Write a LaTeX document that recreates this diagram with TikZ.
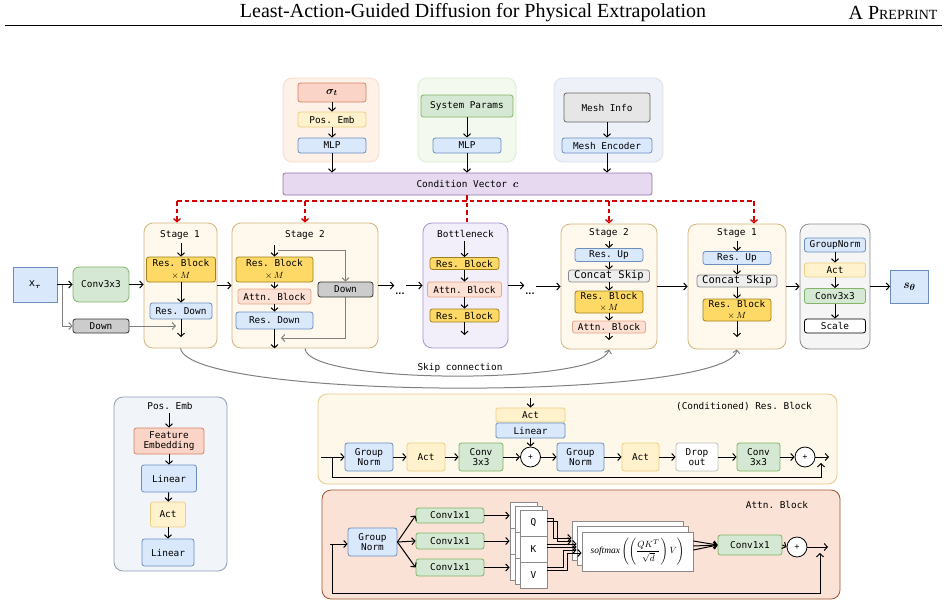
\documentclass[tikz,border=0pt]{standalone}
\usepackage{amsmath}
\usepackage{fontspec}
\setmainfont{Liberation Serif}
\setmonofont{DejaVu Sans Mono}
\newfontfamily\dotsfont{DejaVu Sans}
\usetikzlibrary{arrows.meta}

\definecolor{blueF}{HTML}{DAE8FC}  \definecolor{blueD}{HTML}{6C8EBF}
\definecolor{greenF}{HTML}{D5E8D4} \definecolor{greenD}{HTML}{82B366}
\definecolor{yelF}{HTML}{FFF2CC}   \definecolor{yelD}{HTML}{F0CF80}
\definecolor{resF}{HTML}{FFD966}   \definecolor{resD}{HTML}{A0801E}
\definecolor{attnF}{HTML}{FCE1D4}  \definecolor{attnD}{HTML}{E8A588}
\definecolor{sigF}{HTML}{FAD4C6}   \definecolor{sigD}{HTML}{D98268}
\definecolor{purF}{HTML}{E6D9F0}   \definecolor{purD}{HTML}{9673A6}
\definecolor{downF}{HTML}{CCCCCC}  \definecolor{downD}{HTML}{333333}
\definecolor{meshF}{HTML}{E6E6E6}  \definecolor{meshD}{HTML}{666666}
\definecolor{catF}{HTML}{EEEEEE}   \definecolor{catD}{HTML}{8A8A8A}
\definecolor{stageF}{HTML}{FEF9EC} \definecolor{stageD}{HTML}{D4B47E}
\definecolor{bnF}{HTML}{F2EEFA}    \definecolor{bnD}{HTML}{A792CC}
\definecolor{outF}{HTML}{F5F5F5}   \definecolor{outD}{HTML}{8C8C8C}
\definecolor{gaF}{HTML}{FDF1E8}    \definecolor{gaD}{HTML}{FADCC8}
\definecolor{gbF}{HTML}{F3F9EE}    \definecolor{gbD}{HTML}{DCEBD2}
\definecolor{gcF}{HTML}{EEF2F8}    \definecolor{gcD}{HTML}{D8E0EC}
\definecolor{peF}{HTML}{F1F4F8}    \definecolor{peD}{HTML}{8C9DB5}
\definecolor{rbF}{HTML}{FDF8EA}    \definecolor{rbD}{HTML}{E8C98A}
\definecolor{abF}{HTML}{FAE3D6}    \definecolor{abD}{HTML}{A0522D}
\definecolor{condred}{HTML}{D40000}
\definecolor{skipgray}{HTML}{808080}

\begin{document}
\begin{tikzpicture}[x=1pt,y=-1pt,
    every node/.style={font=\fontsize{9.4}{10.5}\selectfont\ttfamily},
    arr/.style={-{Straight Barb[length=3.2pt,width=7pt]},line width=1pt},
    garr/.style={arr,draw=skipgray},
    reddash/.style={draw=condred,color=condred,line width=1.3pt,dash pattern=on 4.5pt off 3pt},
    redarr/.style={reddash,-{Straight Barb[length=3.2pt,width=7pt]}},
    box/.style={draw,rounded corners=2.5pt,inner sep=0pt,align=center,line width=0.8pt},
    bluebox/.style={box,fill=blueF,draw=blueD},
    greenbox/.style={box,fill=greenF,draw=greenD},
    yelbox/.style={box,fill=yelF,draw=yelD},
    resbox/.style={box,fill=resF,draw=resD},
    attnbox/.style={box,fill=attnF,draw=attnD},
    sigbox/.style={box,fill=sigF,draw=sigD},
    downbox/.style={box,fill=downF,draw=downD},
    catbox/.style={box,fill=catF,draw=catD},
    cont/.style={draw,rounded corners=9pt,line width=0.8pt,inner sep=0pt},
    plus/.style={circle,draw,fill=white,minimum size=20,inner sep=0pt,line width=0.8pt,font=\fontsize{8}{8}\selectfont\ttfamily},
    cell/.style={draw=catD,fill=white,minimum width=27,minimum height=26,inner sep=0pt,line width=0.8pt},
    dots/.style={font=\fontsize{8}{8}\selectfont\dotsfont\bfseries,inner sep=1pt},
    times/.style={font=\fontsize{9.4}{11.5}\selectfont\ttfamily}
  ]
  \useasboundingbox (0,0) rectangle (948,606);

  % Page header
  \node[font=\fontsize{20}{24}\selectfont\rmfamily] (title) at (473,13) {Least-Action-Guided Diffusion for Physical Extrapolation};
  \node[font=\fontsize{20}{24}\selectfont\rmfamily,anchor=east] (tag) at (941,13) {A P{\fontsize{14}{14}\selectfont REPRINT}};
  \draw[line width=1.2pt] (5,25.5) -- (942,25.5);

  % Condition inputs
  \node[cont,fill=gaF,draw=gaD,minimum width=96,minimum height=84] (ga) at (331,120) {};
  \node[cont,fill=gbF,draw=gbD,minimum width=98,minimum height=84] (gb) at (467,120) {};
  \node[cont,fill=gcF,draw=gcD,minimum width=109,minimum height=84] (gc) at (608.5,120) {};
  \node[sigbox,minimum width=68,minimum height=19,font=\fontsize{11}{12}\selectfont] (sigma) at (332,92.5) {$\boldsymbol{\sigma_t}$};
  \node[yelbox,minimum width=68,minimum height=15] (posemb) at (332,119.5) {Pos. Emb};
  \node[bluebox,minimum width=68,minimum height=15] (mlpa) at (332,145.5) {MLP};
  \node[greenbox,minimum width=92,minimum height=22] (sysp) at (467,106) {System Params};
  \node[bluebox,minimum width=68,minimum height=15] (mlpb) at (467,145.5) {MLP};
  \node[box,fill=meshF,draw=meshD,minimum width=86,minimum height=29] (mesh) at (607,107.5) {Mesh Info};
  \node[bluebox,minimum width=90,minimum height=15] (meshenc) at (607,145.5) {Mesh Encoder};
  \node[box,fill=purF,draw=purD,minimum width=369,minimum height=22] (cond) at (467.5,184) {Condition Vector {\fontsize{11}{12}\selectfont$\boldsymbol{c}$}};
  \draw[arr] (sigma) -- (posemb);
  \draw[arr] (posemb) -- (mlpa);
  \draw[arr] (mlpa.south) -- (mlpa.south |- cond.north);
  \draw[arr] (sysp) -- (mlpb);
  \draw[arr] (mlpb.south) -- (mlpb.south |- cond.north);
  \draw[arr] (mesh) -- (meshenc);
  \draw[arr] (meshenc.south) -- (meshenc.south |- cond.north);

  % Stage containers
  \node[cont,fill=stageF,draw=stageD,minimum width=73,minimum height=125] (s1) at (180.5,285.5) {};
  \node[cont,fill=stageF,draw=stageD,minimum width=146,minimum height=125] (s2) at (305,285.5) {};
  \node[cont,fill=bnF,draw=bnD,minimum width=85,minimum height=125] (bn) at (465.5,285.5) {};
  \node[cont,fill=stageF,draw=stageD,minimum width=96,minimum height=125] (s2u) at (609,286.5) {};
  \node[cont,fill=stageF,draw=stageD,minimum width=98,minimum height=125] (s1u) at (737,286.5) {};
  \node[cont,fill=outF,draw=outD,minimum width=70,minimum height=125] (outg) at (835,286.5) {};

  % Condition feed (dashed)
  \coordinate (cbus) at (467,201);
  \coordinate (r1) at (177,201);
  \coordinate (r5) at (754,201);
  \draw[reddash] (cbus |- cond.south) -- (cbus |- bn.north);
  \draw[reddash] (r1) -- (r5);
  \draw[redarr] (r1) -- (r1 |- s1.north);
  \draw[redarr] (s2.north |- cbus) -- (s2.north);
  \draw[redarr] (s2u.north |- cbus) -- (s2u.north);
  \draw[redarr] (r5) -- (r5 |- s1u.north);

  % Input
  \node[bluebox,rounded corners=0pt,minimum width=44,minimum height=35,font=\fontsize{10.5}{12}\selectfont\ttfamily] (xt) at (35,284.5) {x$_{\boldsymbol{\tau}}$};
  \node[greenbox,rounded corners=6pt,minimum width=56,minimum height=35] (conv) at (101,284.5) {Conv3x3};
  \node[downbox,minimum width=56,minimum height=14] (dn1) at (101,326) {Down};
  \coordinate (xtb) at (62,284.5);
  \coordinate (s1m) at (176,326);
  \draw[arr] (xt) -- (conv);
  \draw[arr] (conv.east) -- (conv.east -| s1.west);
  \draw[garr] (xtb) |- (dn1.west);
  \draw[garr] (dn1.east) -- (s1m);

  % Stage 1 (down)
  \node (s1t) at (180,235) {Stage 1};
  \node[resbox,times,minimum width=69,minimum height=25] (rb1) at (181,269.5) {Res. Block\\$\times\,M$};
  \node[bluebox,minimum width=62,minimum height=16] (rd1) at (181,311) {Res. Down};
  \coordinate (s1o) at (181,337);
  \draw[arr] (rb1.north |- s1t.south) -- (rb1.north);
  \draw[arr] (rb1) -- (rd1);
  \draw[arr] (rd1.south) -- (s1o);
  \draw[arr] (s1) -- (s2);

  % Stage 2 (down)
  \node (s2t) at (305,235) {Stage 2};
  \node[resbox,times,minimum width=77,minimum height=25] (rb2) at (274.5,269.5) {Res. Block\\$\times\,M$};
  \node[attnbox,minimum width=73,minimum height=15] (at2) at (274.5,296.5) {Attn. Block};
  \node[bluebox,minimum width=77,minimum height=17] (rd2) at (274.5,320.5) {Res. Down};
  \node[downbox,minimum width=55,minimum height=15] (dn2) at (345.5,289.5) {Down};
  \coordinate (s2i) at (274.5,245);
  \coordinate (s2g) at (278,250);
  \coordinate (s2m) at (281,338);
  \draw[arr] (s2i) -- (rb2.north);
  \draw[arr] (rb2) -- (at2);
  \draw[arr] (at2) -- (rd2);
  \draw[arr] (rd2.south) -- (rd2.south |- s2.south);
  \draw[garr] (s2g) -| (dn2.north);
  \draw[garr] (dn2.south) |- (s2m);

  % Bottleneck
  \node[dots] (d1) at (400,294) {...};
  \node[dots] (d2) at (530,294) {...};
  \draw[arr] (s2.east) -- (s2.east -| d1.west);
  \draw[arr] (d1.east |- bn.west) -- (bn.west);
  \node (bnt) at (465.5,234) {Bottleneck};
  \node[resbox,minimum width=69,minimum height=12] (rbb1) at (464.5,263.5) {Res. Block};
  \node[attnbox,minimum width=74,minimum height=15] (atb) at (464.5,289.5) {Attn. Block};
  \node[resbox,minimum width=69,minimum height=13] (rbb2) at (464.5,315.5) {Res. Block};
  \coordinate (bno) at (464.5,335);
  \draw[arr] (rbb1.north |- bnt.south) -- (rbb1.north);
  \draw[arr] (rbb1) -- (atb);
  \draw[arr] (atb) -- (rbb2);
  \draw[arr] (rbb2.south) -- (bno);
  \draw[arr] (bn.east) -- (bn.east -| d2.west);
  \draw[arr] (d2.east |- s2u.west) -- (s2u.west);

  % Stage 2 (up)
  \node (s2ut) at (609,233) {Stage 2};
  \node[bluebox,minimum width=68,minimum height=13] (ru2) at (609,255) {Res. Up};
  \node[catbox,minimum width=81,minimum height=12,font=\fontsize{10.5}{11}\selectfont\ttfamily] (cs2) at (609,276) {Concat Skip};
  \node[resbox,times,minimum width=68,minimum height=22] (rbu2) at (609,302) {Res. Block\\$\times\,M$};
  \node[attnbox,minimum width=73,minimum height=12] (atu2) at (609,327) {Attn. Block};
  \coordinate (s2uo) at (609,340);
  \draw[arr] (ru2.north |- s2ut.south) -- (ru2.north);
  \draw[arr] (ru2) -- (cs2);
  \draw[arr] (cs2) -- (rbu2);
  \draw[arr] (rbu2) -- (atu2);
  \draw[arr] (atu2.south) -- (s2uo);
  \draw[arr] (s2u) -- (s1u);

  % Stage 1 (up)
  \node (s1ut) at (737,233) {Stage 1};
  \node[bluebox,minimum width=68,minimum height=13] (ru1) at (737,258) {Res. Up};
  \node[catbox,minimum width=80,minimum height=12,font=\fontsize{10.5}{11}\selectfont\ttfamily] (cs1) at (737,281) {Concat Skip};
  \node[resbox,times,minimum width=68,minimum height=22] (rbu1) at (737,310) {Res. Block\\$\times\,M$};
  \coordinate (s1uo) at (737,337);
  \draw[arr] (ru1.north |- s1ut.south) -- (ru1.north);
  \draw[arr] (ru1) -- (cs1);
  \draw[arr] (cs1) -- (rbu1);
  \draw[arr] (rbu1.south) -- (s1uo);
  \draw[arr] (s1u) -- (outg);

  % Output head
  \node[bluebox,minimum width=61,minimum height=14] (gno) at (835,245) {GroupNorm};
  \node[yelbox,minimum width=61,minimum height=14] (acto) at (835,270) {Act};
  \node[greenbox,minimum width=61,minimum height=15] (cvo) at (835,296) {Conv3x3};
  \node[box,fill=white,minimum width=61,minimum height=14] (sco) at (835,326) {Scale};
  \node[bluebox,rounded corners=0pt,minimum width=38,minimum height=33,font=\fontsize{12.5}{14}\selectfont] (st) at (909.5,286.5) {$\boldsymbol{s_\theta}$};
  \draw[arr] (gno) -- (acto);
  \draw[arr] (acto) -- (cvo);
  \draw[arr] (cvo) -- (sco);
  \draw[arr] (outg) -- (st);

  % Skip connections
  \draw[garr] (s2.south) .. controls (307,385) and (600,385) .. (s2u.south);
  \draw[garr] (s1.south) .. controls (190,401) and (728,401) .. (s1u.south);
  \node (skip) at (460,368) {Skip connection};

  % Pos. Emb detail
  \node[cont,fill=peF,draw=peD,minimum width=113,minimum height=174] (pe) at (170.5,484) {};
  \node (pet) at (170,406) {Pos. Emb};
  \node[sigbox,minimum width=70,minimum height=26] (fe) at (169,441) {Feature\\Embedding};
  \node[bluebox,minimum width=55,minimum height=27] (lin1) at (169,478.5) {Linear};
  \node[yelbox,minimum width=35,minimum height=25] (acte) at (168,514.5) {Act};
  \node[bluebox,minimum width=52,minimum height=27] (lin2) at (168,552.5) {Linear};
  \draw[arr] (fe.north |- pet.south) -- (fe.north);
  \draw[arr] (fe) -- (lin1);
  \draw[arr] (lin1) -- (acte);
  \draw[arr] (acte) -- (lin2);

  % (Conditioned) Res. Block detail
  \node[cont,fill=rbF,draw=rbD,minimum width=519,minimum height=90] (rbc) at (577.5,439) {};
  \node (rbt) at (744,407) {(Conditioned) Res. Block};
  \node[bluebox,minimum width=48,minimum height=28] (gn1) at (369,457) {Group\\Norm};
  \node[yelbox,minimum width=38,minimum height=28] (act1) at (426,457) {Act};
  \node[greenbox,minimum width=44,minimum height=28] (cv1) at (481,457) {Conv\\3x3};
  \node[plus] (plus1) at (530.5,457) {+};
  \node[yelbox,rounded corners=1.5pt,minimum width=69,minimum height=14] (actc) at (530.5,415) {Act};
  \node[bluebox,rounded corners=1.5pt,minimum width=69,minimum height=15] (linc) at (530.5,430.5) {Linear};
  \node[bluebox,minimum width=47,minimum height=28] (gn2) at (580.5,457) {Group\\Norm};
  \node[yelbox,minimum width=37,minimum height=28] (act2) at (640.5,457) {Act};
  \node[box,fill=white,draw=catF!80!black,minimum width=42,minimum height=28] (drop) at (697,457) {Drop\\out};
  \node[greenbox,minimum width=43,minimum height=28] (cv2) at (758.5,457) {Conv\\3x3};
  \node[plus] (plus2) at (805,457) {+};
  \coordinate (rin) at (321,457);
  \coordinate (rbr) at (332,457);
  \coordinate (rlow) at (332,477);
  \coordinate (rres) at (821,463);
  \coordinate (rout) at (829,457);
  \coordinate (ctop) at (530.5,398);
  \draw[arr] (rin) -- (gn1);
  \draw[arr] (gn1) -- (act1);
  \draw[arr] (act1) -- (cv1);
  \draw[arr] (cv1) -- (plus1);
  \draw[arr] (plus1) -- (gn2);
  \draw[arr] (gn2) -- (act2);
  \draw[arr] (act2) -- (drop);
  \draw[arr] (drop) -- (cv2);
  \draw[arr] (cv2) -- (plus2);
  \draw[arr] (plus2) -- (rout);
  \draw[arr] (ctop) -- (actc.north);
  \draw[arr] (linc) -- (plus1);
  \draw[arr] (rbr) -- (rlow) -| (rres);

  % Attn. Block detail
  \node[cont,fill=abF,draw=abD,minimum width=518,minimum height=109] (abc) at (581,544.5) {};
  \node (abt) at (777,505) {Attn. Block};
  \node[bluebox,minimum width=49,minimum height=28] (gna) at (372.5,542) {Group\\Norm};
  \node[greenbox,minimum width=68,minimum height=15] (c1) at (450,515.5) {Conv1x1};
  \node[greenbox,minimum width=68,minimum height=16] (c2) at (450,541) {Conv1x1};
  \node[greenbox,minimum width=68,minimum height=17] (c3) at (450,567.5) {Conv1x1};
  \foreach \i in {0,1} {
    \foreach \t [count=\j from 0] in {Q,K,V}
      \node[cell] (l\i\t) at ({523.5+5*\i},{515+4*\i+26*\j}) {};
  }
  \foreach \t [count=\j from 0] in {Q,K,V}
    \node[cell] (cell\t) at (533.5,{523+26*\j}) {\t};
  \node[cell,minimum width=111,minimum height=39] (sm0) at (627.5,540.5) {};
  \node[cell,minimum width=111,minimum height=39] (sm1) at (632.5,546) {};
  \node[cell,minimum width=111,minimum height=39,font=\fontsize{9.4}{10.5}\selectfont] (sm2) at (637.5,551.5)
    {$\mathit{softmax}\left(\left(\dfrac{QK^T}{\sqrt{d}}\right)V\right)$};
  \node[greenbox,minimum width=64,minimum height=20] (cc) at (750,545) {Conv1x1};
  \node[plus] (plus3) at (797,547) {+};
  \coordinate (ain) at (330,544);
  \coordinate (abr) at (332,544);
  \coordinate (alow) at (332,593);
  \coordinate (ares) at (820,553);
  \coordinate (aout) at (828,547);
  \draw[arr] (ain) -- (ain -| gna.west);
  \draw[arr] (gna.east) -- (c1.west);
  \draw[arr] (gna.east) -- (c2.west);
  \draw[arr] (gna.east) -- (c3.west);
  \draw[arr] (c1.east) -- (c1.east -| l0Q.west);
  \draw[arr] (c2.east) -- (c2.east -| l0K.west);
  \draw[arr] (c3.east) -- (c3.east -| l0V.west);
  \foreach \ya/\xb/\yb/\tgt in {518/553/538/sm0, 521/557/541/sm0, 544/560/544/sm1, 547/560/547/sm1,
                               567/563/550/sm1, 570/567/553/sm2}
    \draw[arr] (cellQ.east |- 0,\ya) -| (\xb,\yb) -- (\tgt.west |- 0,\yb);
  \foreach \dy in {10.5,5.5,1.5}
    \draw[arr] ([yshift=\dy pt]sm2.east) -- (cc.west);
  \draw[arr] (cc.east) -- (plus3.west);
  \draw[arr] (plus3) -- (aout);
  \draw[arr] (abr) -- (alow) -| (ares);
\end{tikzpicture}
\end{document}
